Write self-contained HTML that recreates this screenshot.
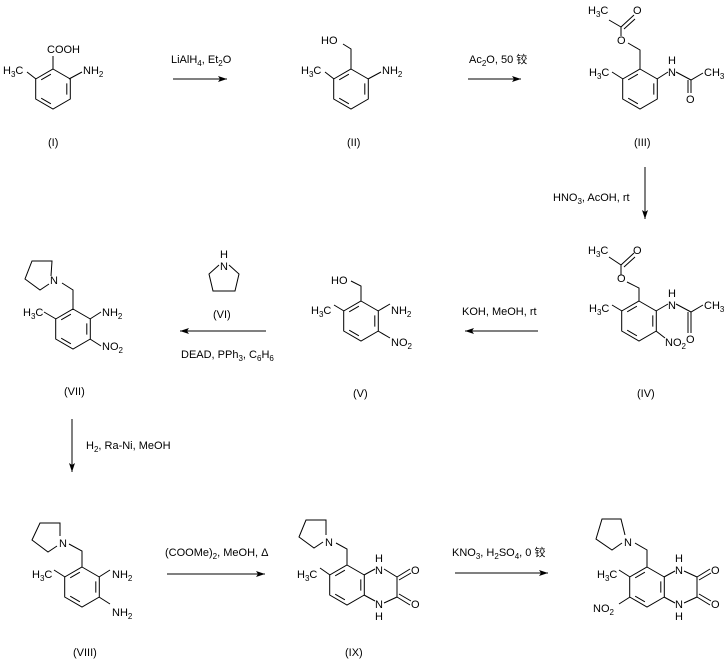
<!DOCTYPE html>
<html><head><meta charset="utf-8"><style>
html,body{margin:0;padding:0;background:#fff;}
svg{display:block;}
text{font-family:"Liberation Sans","Noto Sans CJK SC",sans-serif;font-size:11px;fill:#000;}
.s{font-size:8px;}
</style></head><body>
<svg width="728" height="660" viewBox="0 0 728 660" xmlns="http://www.w3.org/2000/svg">
<defs>
<g id="hex" fill="none" stroke="#000" stroke-width="1">
<path d="M0,-20 L17.3,-10 L17.3,10 L0,20 L-17.3,10 L-17.3,-10 Z"/>
<path d="M-11.8,-9.2 L-2.1,-14.8 M13.8,-5.6 L13.8,5.6 M-2.1,14.8 L-11.8,9.2"/>
</g>
<marker id="ah" markerWidth="10" markerHeight="8" refX="9" refY="4" orient="auto" markerUnits="userSpaceOnUse">
<path d="M0,1 L9,4 L0,7 L2,4 Z" fill="#000"/>
</marker>
</defs>
<g stroke="#000" stroke-width="1" fill="none">
<!-- arrows -->
<line x1="173" y1="79" x2="227" y2="79" marker-end="url(#ah)"/>
<line x1="468" y1="79" x2="521" y2="79" marker-end="url(#ah)"/>
<line x1="645" y1="167" x2="645" y2="219" marker-end="url(#ah)"/>
<line x1="538" y1="331" x2="465" y2="331" marker-end="url(#ah)"/>
<line x1="266" y1="331" x2="180" y2="331" marker-end="url(#ah)"/>
<line x1="72" y1="419" x2="72" y2="472" marker-end="url(#ah)"/>
<line x1="167" y1="574" x2="265" y2="574" marker-end="url(#ah)"/>
<line x1="455" y1="573" x2="548" y2="573" marker-end="url(#ah)"/>

<!-- I -->
<path d="M53,69 L53,56 M69,79 L82,72 M36,79 L27,72"/>
<!-- II -->
<path d="M351,69 L351,49 L343,44 M368,79 L381,72 M334,79 L325,72"/>
<!-- III -->
<path d="M640,69 L640,50 L628,43 M621,36 L621,27 L609,20 M621,27 L634,15 M624,29 L635,19 M657,79 L668,72 M676,72 L691,80 L703,73 M691,80 L691,93 M688,80 L688,93 M623,79 L612,72"/>
<!-- IV -->
<path d="M639,301 L639,288 L627,282 M621,275 L621,265 L609,257 M621,265 L634,253 M624,267 L635,257 M656,311 L668,304 M676,304 L691,312 L703,305 M691,312 L691,333 M688,312 L688,333 M656,331 L665,338 M622,311 L612,305"/>
<!-- V -->
<path d="M361,301 L361,286 L351,281 M378,311 L390,304 M378,331 L390,338 M344,311 L334,305"/>
<!-- VI pyrrolidine -->
<path d="M219,265 L209,274 L213,291 L235,291 L239,274 L229,265"/>
<!-- VII -->
<path d="M73,310 L73,290 L62,283 M51,276 L52,261 L32,261 L25,279 L40,290 L49,284 M90,319 L101,312 M90,339 L101,346 M56,319 L44,312"/>
<!-- VIII -->
<path d="M82,567 L82,551 L69,544 M60,536 L60,523 L40,523 L32,540 L48,552 L57,546 M99,577 L110,570 M99,597 L110,604 M65,577 L54,570"/>
<!-- IX -->
<path d="M347,565 L347,549 L336,543 M326,535 L326,520 L306,520 L299,537 L314,548 L323,542 M330,575 L320,568 M364,575 L375,569 M384,569 L397,577 L397,597 L384,603 M364,595 L375,601 M397,577 L410,569 M399,580 L411,573 M397,597 L410,605 M399,594 L411,601"/>
<!-- X -->
<path d="M647,567 L647,550 L635,543 M625,535 L621,519 L602,519 L596,539 L612,550 L622,543 M630,577 L619,570 M630,597 L619,604 M664,577 L675,571 M684,571 L697,577 L697,597 L684,603 M664,597 L675,603 M697,577 L710,569 M699,580 L711,573 M697,597 L710,605 M699,594 L711,601"/>
</g>
<use href="#hex" x="53" y="89"/>
<use href="#hex" x="351" y="89"/>
<use href="#hex" x="640" y="89"/>
<use href="#hex" x="639" y="321"/>
<use href="#hex" x="361" y="321"/>
<use href="#hex" x="73" y="329"/>
<use href="#hex" x="82" y="587"/>
<use href="#hex" x="347" y="585"/>
<use href="#hex" x="647" y="587"/>

<!-- labels I -->
<text x="47" y="53">COOH</text>
<text x="83" y="74">NH<tspan class="s" dy="3">2</tspan></text>
<text x="3" y="74">H<tspan class="s" dy="3">3</tspan><tspan dy="-3">C</tspan></text>
<text x="48" y="146">(I)</text>
<!-- II -->
<text x="321" y="44">HO</text>
<text x="382" y="74">NH<tspan class="s" dy="3">2</tspan></text>
<text x="301" y="74">H<tspan class="s" dy="3">3</tspan><tspan dy="-3">C</tspan></text>
<text x="347" y="146">(II)</text>
<!-- III -->
<text x="617" y="44">O</text>
<text x="633" y="14">O</text>
<text x="588" y="14">H<tspan class="s" dy="3">3</tspan><tspan dy="-3">C</tspan></text>
<text x="668" y="64">H</text>
<text x="668" y="76">N</text>
<text x="704" y="76">CH<tspan class="s" dy="3">3</tspan></text>
<text x="686" y="103">O</text>
<text x="589" y="76">H<tspan class="s" dy="3">3</tspan><tspan dy="-3">C</tspan></text>
<text x="634" y="146">(III)</text>
<!-- IV -->
<text x="617" y="282">O</text>
<text x="633" y="254">O</text>
<text x="588" y="254">H<tspan class="s" dy="3">3</tspan><tspan dy="-3">C</tspan></text>
<text x="668" y="297">H</text>
<text x="668" y="309">N</text>
<text x="704" y="309">CH<tspan class="s" dy="3">3</tspan></text>
<text x="686" y="343">O</text>
<text x="665" y="346">NO<tspan class="s" dy="3">2</tspan></text>
<text x="589" y="312">H<tspan class="s" dy="3">3</tspan><tspan dy="-3">C</tspan></text>
<text x="637" y="397">(IV)</text>
<!-- V -->
<text x="331" y="284">HO</text>
<text x="391" y="314">NH<tspan class="s" dy="3">2</tspan></text>
<text x="391" y="346">NO<tspan class="s" dy="3">2</tspan></text>
<text x="311" y="314">H<tspan class="s" dy="3">3</tspan><tspan dy="-3">C</tspan></text>
<text x="353" y="397">(V)</text>
<!-- VI -->
<text x="220" y="258">H</text>
<text x="220" y="270">N</text>
<text x="213" y="318">(VI)</text>
<!-- VII -->
<text x="50" y="284">N</text>
<text x="102" y="316">NH<tspan class="s" dy="3">2</tspan></text>
<text x="102" y="350">NO<tspan class="s" dy="3">2</tspan></text>
<text x="23" y="316">H<tspan class="s" dy="3">3</tspan><tspan dy="-3">C</tspan></text>
<text x="64" y="395">(VII)</text>
<!-- VIII -->
<text x="59" y="547">N</text>
<text x="112" y="578">NH<tspan class="s" dy="3">2</tspan></text>
<text x="112" y="616">NH<tspan class="s" dy="3">2</tspan></text>
<text x="32" y="578">H<tspan class="s" dy="3">3</tspan><tspan dy="-3">C</tspan></text>
<text x="73" y="656">(VIII)</text>
<!-- IX -->
<text x="325" y="546">N</text>
<text x="375" y="562">H</text>
<text x="375" y="574">N</text>
<text x="375" y="608">N</text>
<text x="375" y="620">H</text>
<text x="411" y="574">O</text>
<text x="411" y="608">O</text>
<text x="297" y="578">H<tspan class="s" dy="3">3</tspan><tspan dy="-3">C</tspan></text>
<text x="345" y="656">(IX)</text>
<!-- X -->
<text x="624" y="546">N</text>
<text x="675" y="562">H</text>
<text x="675" y="574">N</text>
<text x="675" y="608">N</text>
<text x="675" y="620">H</text>
<text x="711" y="574">O</text>
<text x="711" y="608">O</text>
<text x="597" y="578">H<tspan class="s" dy="3">3</tspan><tspan dy="-3">C</tspan></text>
<text x="593" y="612">NO<tspan class="s" dy="3">2</tspan></text>

<!-- reagents -->
<text x="171" y="63">LiAlH<tspan class="s" dy="3">4</tspan><tspan dy="-3">, Et</tspan><tspan class="s" dy="3">2</tspan><tspan dy="-3">O</tspan></text>
<text x="469" y="63">Ac<tspan class="s" dy="3">2</tspan><tspan dy="-3">O, 50 铰</tspan></text>
<text x="553" y="201">HNO<tspan class="s" dy="3">3</tspan><tspan dy="-3">, AcOH, rt</tspan></text>
<text x="462" y="315">KOH, MeOH,  rt</text>
<text x="181" y="358">DEAD, PPh<tspan class="s" dy="3">3</tspan><tspan dy="-3">, C</tspan><tspan class="s" dy="3">6</tspan><tspan dy="-3">H</tspan><tspan class="s" dy="3">6</tspan></text>
<text x="86" y="449">H<tspan class="s" dy="3">2</tspan><tspan dy="-3">, Ra-Ni, MeOH</tspan></text>
<text x="165" y="556">(COOMe)<tspan class="s" dy="3">2</tspan><tspan dy="-3">, MeOH, Δ</tspan></text>
<text x="452" y="556">KNO<tspan class="s" dy="3">3</tspan><tspan dy="-3">, H</tspan><tspan class="s" dy="3">2</tspan><tspan dy="-3">SO</tspan><tspan class="s" dy="3">4</tspan><tspan dy="-3">, 0 铰</tspan></text>
</svg>
</body></html>
